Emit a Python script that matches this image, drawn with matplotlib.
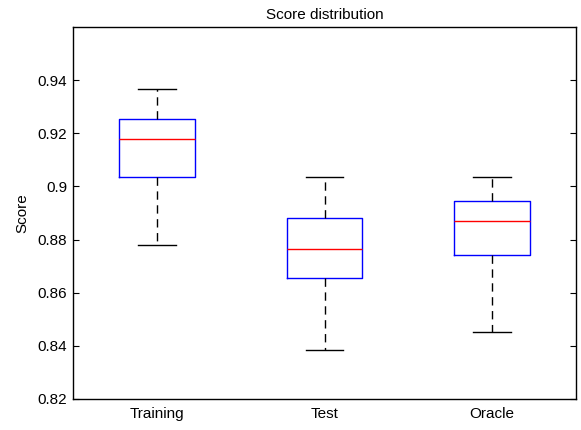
import matplotlib
matplotlib.use("Agg")
import matplotlib.pyplot as plt

# data
categories = ["Training", "Test", "Oracle"]
whisker_low = [0.8781, 0.8384, 0.8454]
q1 = [0.9036, 0.8654, 0.8741]
medians = [0.9179, 0.8766, 0.8870]
q3 = [0.9254, 0.8881, 0.8946]
whisker_high = [0.9366, 0.9036, 0.9036]
y_ticks = [0.82, 0.84, 0.86, 0.88, 0.9, 0.92, 0.94]
y_tick_labels = ["0.82", "0.84", "0.86", "0.88", "0.9", "0.92", "0.94"]

plt.rcParams['font.family'] = ['Liberation Sans', 'DejaVu Sans']

stats = []
for i, name in enumerate(categories):
    stats.append({
        'label': name,
        'whislo': whisker_low[i],
        'q1': q1[i],
        'med': medians[i],
        'q3': q3[i],
        'whishi': whisker_high[i],
        'fliers': [],
    })

fig = plt.figure(figsize=(5.81, 4.30), dpi=100)
ax = fig.add_axes([73 / 581, 1 - 399 / 430, (576 - 73) / 581, (399 - 27) / 430])

ax.bxp(stats, positions=[1, 2, 3], widths=0.45, showfliers=False,
       boxprops=dict(color='blue', linewidth=1),
       medianprops=dict(color='red', linewidth=1),
       whiskerprops=dict(color='black', linestyle=(0, (6, 4)), linewidth=1),
       capprops=dict(color='black', linewidth=1),
       capwidths=0.225)

ax.set_xlim(0.5, 3.5)
ax.set_ylim(0.82, 0.96)
ax.set_yticks(y_ticks)
ax.set_yticklabels(y_tick_labels)
ax.tick_params(axis='y', direction='in', length=4, labelsize=11, right=True, width=0.8, pad=4)
ax.tick_params(axis='x', length=0, labelsize=11, pad=6)
for s in ax.spines.values():
    s.set_linewidth(1)

ax.set_title("Score distribution", fontsize=11, pad=6)
ax.set_ylabel("Score", fontsize=11, labelpad=6)

fig.savefig("out.png", dpi=100)
